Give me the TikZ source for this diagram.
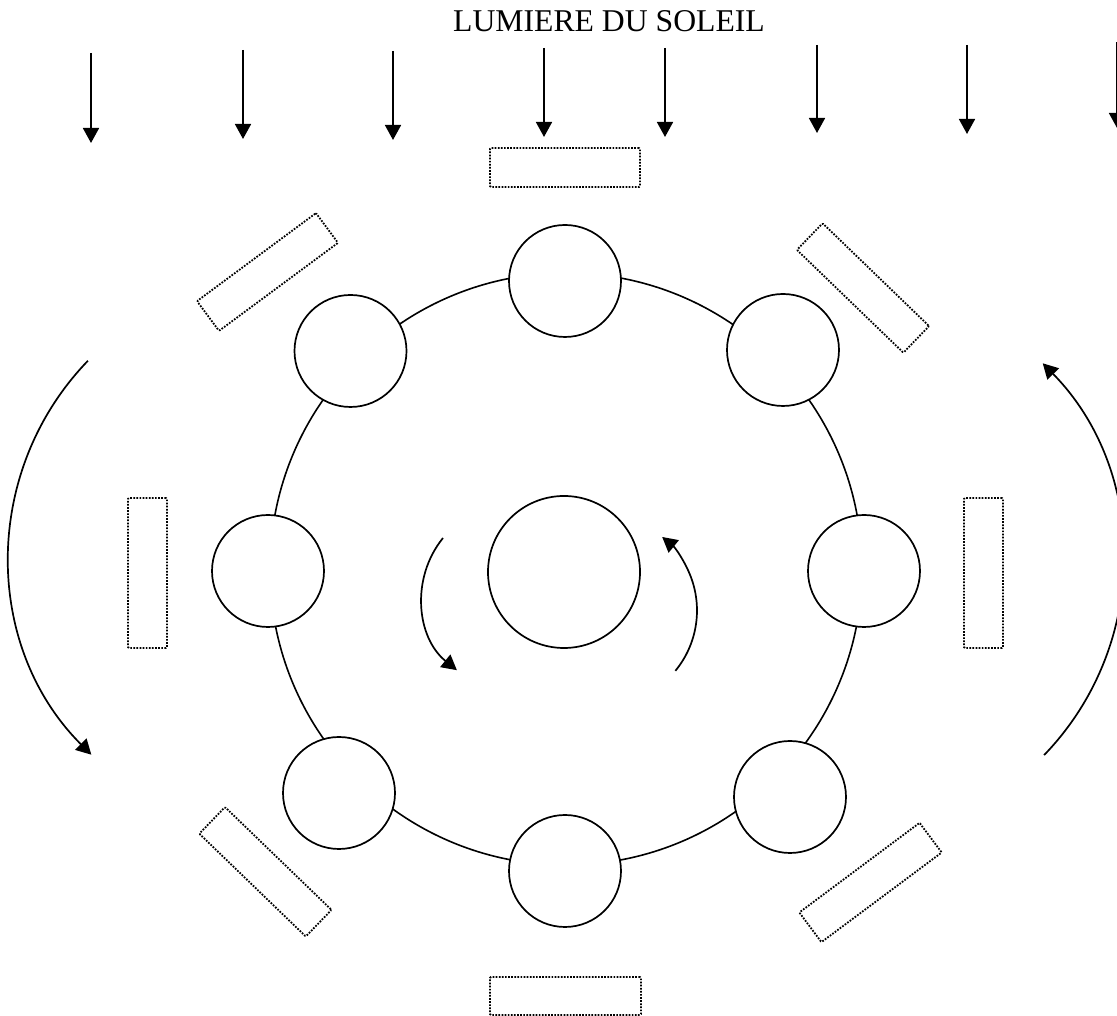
\documentclass[tikz,border=0pt]{standalone}
\usepackage{fontspec}
\setmainfont{Liberation Serif}
\usetikzlibrary{arrows.meta}
\begin{document}
\begin{tikzpicture}[x=1pt,y=1pt,
  pot/.style={draw,circle,line width=1.7pt,fill=white,inner sep=0pt,minimum size=112pt},
  panneau/.style={draw,line width=1.8pt,dash pattern=on 1.7pt off 1.4pt,inner sep=0pt,rounded corners=1pt},
  rayon/.style={line width=1.7pt,-{Triangle[width=16pt,length=15pt]}}]
\useasboundingbox (0,0) rectangle (1117,1016);

\node[anchor=base,inner sep=0pt,font=\fontsize{31.7}{38}\selectfont] (soleil) at (609,984) {LUMIERE DU SOLEIL};

% rayons
\draw[rayon] (91,963) -- (91,873);
\draw[rayon] (243,966) -- (243,877);
\draw[rayon] (393,965) -- (393,876);
\draw[rayon] (544,968) -- (544,879);
\draw[rayon] (665,968) -- (665,879);
\draw[rayon] (817,971) -- (817,883);
\draw[rayon] (967,971) -- (967,882);
\draw[rayon] (1117,974) -- (1117,888);

% panneaux
\node[panneau,minimum width=150pt,minimum height=39pt] (p1) at (565,848.5) {};
\node[panneau,minimum width=148pt,minimum height=37pt,rotate=-44] (p2) at (863,728) {};
\node[panneau,minimum width=39pt,minimum height=150pt] (p3) at (983.5,443) {};
\node[panneau,minimum width=150pt,minimum height=37pt,rotate=36.7] (p4) at (870.5,133.5) {};
\node[panneau,minimum width=151pt,minimum height=38pt] (p5) at (565.5,20) {};
\node[panneau,minimum width=148pt,minimum height=37pt,rotate=-44] (p6) at (265.4,144.2) {};
\node[panneau,minimum width=39pt,minimum height=150pt] (p7) at (147.5,443) {};
\node[panneau,minimum width=148pt,minimum height=37pt,rotate=36.5] (p8) at (267.5,744) {};

% plateau
\draw[line width=1.6pt] (566,447) circle (296);
\node[pot] (c1) at (565,735) {};
\node[pot] (c2) at (783,666) {};
\node[pot] (c3) at (864,445) {};
\node[pot] (c4) at (790,219) {};
\node[pot] (c5) at (565,145) {};
\node[pot] (c6) at (339,223) {};
\node[pot] (c7) at (268,445) {};
\node[pot] (c8) at (350.5,665) {};
\node[pot,minimum size=152pt] (centre) at (564,444) {};

% rotation
\draw[rayon] (443,478) arc[start angle=141,end angle=231,radius=94];
\draw[rayon] (675.4,345.2) arc[start angle=-39.4,end angle=50.7,radius=95];
\draw[rayon] (87.9,655.2) arc[start angle=136,end angle=225,radius=281];
\draw[rayon] (1044.1,260.9) arc[start angle=-44,end angle=44.4,radius=281];

\end{tikzpicture}
\end{document}
